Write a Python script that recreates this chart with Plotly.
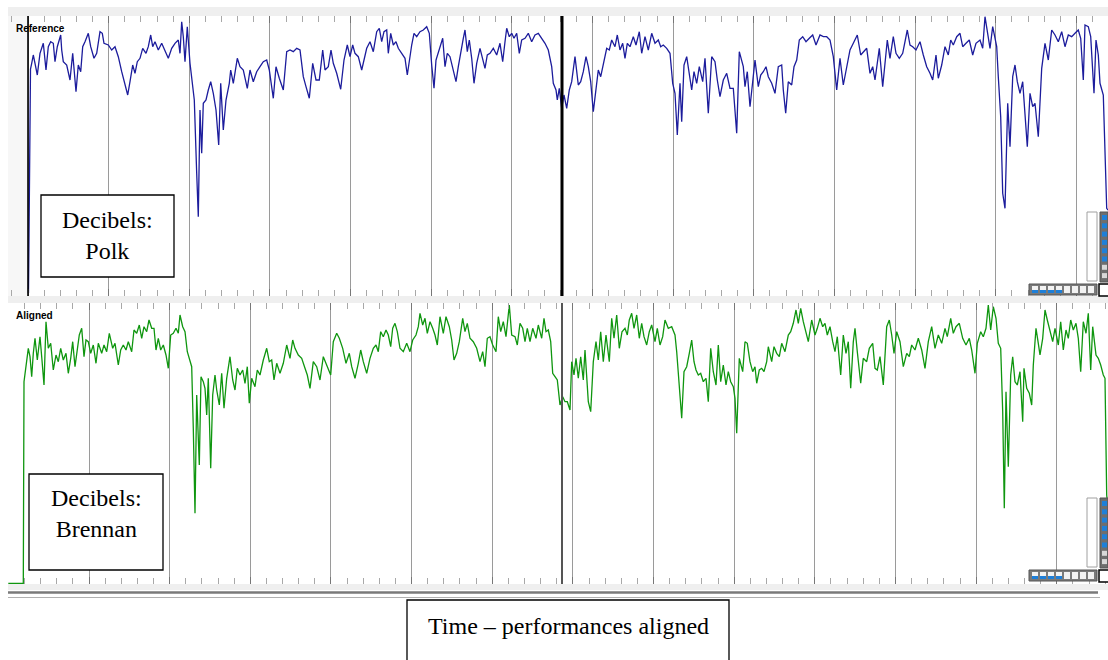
import plotly.graph_objects as go

# ---------------- data (time in s, level in dB) ----------------
ref_time = [2.85, 3.05, 3.17, 3.33, 3.5, 3.73, 4.0, 4.33, 4.6, 4.83, 5.07, 5.33, 5.5, 5.73, 6.07, 6.17, 6.33, 6.67, 7.0, 7.27, 7.6, 7.83, 8.07, 8.27, 8.5, 8.83, 9.07, 9.4, 9.67, 10.0, 10.23, 10.4, 10.83, 11.17, 11.5, 11.83, 12.17, 12.5, 12.77, 13.0, 13.27, 13.5, 13.73, 14.0, 14.27, 14.6, 14.83, 15.07, 15.27, 15.5, 15.83, 16.17, 16.5, 16.83, 17.17, 17.5, 17.83, 18.0, 18.17, 18.33, 18.5, 18.73, 19.0, 19.27, 19.43, 19.67, 19.83, 20.0, 20.17, 20.33, 20.6, 20.83, 21.07, 21.33, 21.6, 21.87, 22.07, 22.33, 22.6, 22.93, 23.07, 23.33, 23.73, 24.0, 24.33, 24.73, 25.0, 25.33, 25.67, 26.0, 26.33, 26.67, 26.93, 27.33, 27.6, 27.93, 28.33, 28.67, 29.0, 29.33, 29.67, 30.0, 30.33, 30.6, 30.93, 31.27, 31.6, 31.93, 32.27, 32.5, 32.83, 33.1, 33.33, 33.67, 34.07, 34.4, 34.73, 35.0, 35.27, 35.5, 35.83, 36.17, 36.4, 36.67,
            37.0, 37.33, 37.67, 37.93, 38.17, 38.4, 38.67, 38.83, 39.07, 39.33, 39.6, 39.83, 40.17, 40.5, 40.73, 40.93, 41.17, 41.4, 41.67, 42.0, 42.33, 42.67, 42.93, 43.17, 43.4, 43.6, 43.83, 44.07, 44.27, 44.5, 44.73, 45.0, 45.27, 45.6, 45.83, 46.07, 46.33, 46.5, 46.73, 46.93, 47.17, 47.4, 47.67, 48.0, 48.27, 48.5, 48.73, 49.0, 49.33, 49.67, 50.0, 50.27, 50.5, 50.67, 50.93, 51.17, 51.4, 51.67, 51.93, 52.17, 52.5, 52.83, 53.17, 53.5, 53.83, 54.17, 54.5, 54.83, 55.17, 55.33, 55.6, 55.73, 55.93, 56.17, 56.4, 56.67, 56.93, 57.17, 57.5, 57.83, 58.07, 58.33, 58.6, 58.83, 59.07, 59.33, 59.6, 59.83, 60.07, 60.33, 60.67, 60.93, 61.17, 61.5, 61.73, 62.0, 62.27, 62.5, 62.73, 63.0, 63.33, 63.6, 63.93, 64.17, 64.5, 64.83, 65.17, 65.5, 65.83, 66.07, 66.33, 66.67, 67.0, 67.27, 67.5, 67.73, 68.0, 68.17, 68.4, 68.67, 68.93, 69.17, 69.4, 69.67, 69.93, 70.27, 70.5, 70.83, 71.17, 71.5, 71.73, 72.0, 72.33, 72.67, 73.0, 73.33, 73.67, 73.93,
            74.33, 74.5, 74.73, 75.0, 75.27, 75.5, 75.83, 76.07, 76.33, 76.6, 76.83, 77.17, 77.5, 77.83, 78.17, 78.33, 78.57, 78.83, 79.17, 79.4, 79.67, 79.93, 80.27, 80.6, 80.93, 81.27, 81.6, 82.0, 82.33, 82.67, 83.0, 83.33, 83.67, 84.0, 84.33, 84.67, 85.0, 85.33, 85.73, 86.07, 86.4, 86.67, 87.0, 87.27, 87.5, 87.73, 87.93, 88.27, 88.5, 88.73, 89.0, 89.33, 89.6, 89.93, 90.27, 90.5, 90.73, 91.0, 91.27, 91.6, 92.0, 92.33, 92.67, 93.0, 93.27, 93.6, 93.83, 94.17, 94.5, 94.83, 95.07, 95.33, 95.67, 96.0, 96.27, 96.6, 96.93, 97.27, 97.6, 98.0, 98.27, 98.5, 98.73, 99.0, 99.27, 99.5, 99.67, 99.83, 100.07, 100.27, 100.5, 100.77, 101.0, 101.27, 101.5, 101.73, 102.0, 102.27, 102.5, 102.73, 103.0, 103.27, 103.5, 103.83, 104.17, 104.5, 104.83, 105.17, 105.5, 105.83, 106.17, 106.5, 106.83, 107.17, 107.5, 107.83, 108.07, 108.33, 108.5, 108.83, 109.07, 109.4, 109.6, 109.83, 110.0, 110.33, 110.67, 110.8]
ref_db = [-29.3, -6.9, -6.33, -5.5, -6.33, -7.5, -5.33, -4.33, -7.0, -4.67, -4.17, -4.33, -6.17, -4.67, -3.5, -5.0, -6.17, -6.5, -8.0, -5.33, -9.17, -6.5, -7.17, -4.67, -4.17, -3.33, -4.67, -5.83, -5.33, -3.17, -3.33, -4.33, -4.5, -5.0, -4.67, -5.67, -7.17, -8.5, -9.5, -8.17, -6.5, -7.33, -6.17, -5.83, -4.83, -5.33, -4.67, -3.5, -4.67, -4.17, -5.0, -4.33, -5.0, -5.83, -4.83, -4.33, -4.0, -5.33, -2.17, -3.67, -6.17, -2.67, -6.33, -9.0, -10.0, -17.33, -21.67, -11.0, -15.33, -10.33, -10.0, -9.0, -8.17, -9.33, -11.0, -14.5, -8.33, -13.0, -10.0, -8.33, -7.0, -8.33, -5.83, -6.67, -7.0, -8.83, -7.0, -8.17, -7.17, -6.67, -6.17, -6.0, -7.0, -9.83, -6.67, -7.83, -9.0, -5.17, -5.0, -5.17, -4.83, -5.0, -7.67, -8.67, -9.83, -6.33, -8.0, -8.0, -5.0, -7.0, -6.67, -5.0, -6.33, -7.33, -8.93, -6.0, -4.5, -5.67, -4.5, -5.33, -5.67, -7.0, -5.83, -4.83,
          -4.17, -5.17, -3.17, -2.83, -4.17, -3.17, -3.0, -5.33, -3.33, -4.5, -4.17, -4.83, -5.33, -5.83, -7.5, -6.0, -4.5, -3.33, -3.67, -3.17, -3.0, -2.67, -3.33, -6.5, -8.83, -6.0, -5.17, -4.5, -3.83, -6.67, -5.33, -5.67, -6.83, -8.17, -6.67, -5.17, -3.83, -3.0, -5.17, -4.0, -5.83, -8.33, -6.33, -4.83, -6.0, -6.83, -5.5, -5.33, -4.83, -5.5, -4.33, -6.17, -4.17, -2.83, -3.67, -3.33, -3.83, -3.33, -5.33, -4.0, -3.83, -3.33, -4.17, -3.5, -3.33, -3.83, -4.33, -5.0, -6.67, -8.33, -9.0, -10.0, -8.83, -10.83, -9.5, -10.83, -9.0, -8.17, -5.67, -8.5, -8.17, -7.17, -5.67, -6.67, -8.17, -11.17, -9.17, -7.0, -7.67, -6.33, -4.83, -5.0, -4.0, -4.67, -3.5, -5.0, -4.33, -5.83, -4.33, -4.67, -3.67, -4.5, -3.17, -5.33, -3.67, -5.0, -3.33, -4.33, -4.0, -4.67, -4.5, -4.83, -5.33, -8.33, -9.33, -13.5, -8.33, -12.17, -6.5, -5.67, -7.67, -9.0, -7.17, -8.33, -6.67, -8.17, -5.83, -11.33, -5.67, -6.17, -8.0, -9.67, -8.0, -7.33, -8.83, -8.83, -13.33, -5.17,
          -6.67, -8.67, -7.17, -10.67, -8.17, -6.0, -8.67, -7.5, -7.17, -6.67, -7.67, -8.33, -9.33, -6.67, -6.5, -9.0, -11.33, -8.17, -8.5, -6.67, -6.0, -4.0, -3.67, -4.17, -3.83, -3.5, -4.5, -3.5, -3.67, -3.67, -4.0, -5.67, -9.0, -5.83, -8.5, -6.5, -5.0, -4.33, -3.5, -5.5, -5.17, -4.83, -7.33, -6.67, -8.0, -6.33, -4.83, -8.67, -6.0, -4.0, -5.83, -3.67, -5.33, -5.83, -5.33, -4.0, -3.0, -4.5, -4.67, -5.0, -4.17, -5.5, -6.67, -7.33, -8.0, -5.5, -7.83, -6.5, -4.67, -5.5, -4.0, -4.5, -3.67, -3.33, -4.67, -4.33, -4.0, -5.5, -4.33, -4.0, -4.83, -1.67, -3.0, -4.83, -2.67, -4.0, -4.67, -7.67, -11.67, -19.33, -20.83, -10.33, -14.67, -7.67, -6.5, -8.17, -9.33, -8.17, -12.0, -14.67, -9.33, -10.67, -10.33, -13.67, -6.83, -4.33, -6.0, -3.0, -3.5, -4.17, -3.17, -4.67, -3.5, -3.67, -3.33, -3.0, -3.83, -8.0, -2.5, -2.67, -3.67, -9.33, -4.0, -5.5, -8.33, -9.5, -20.83, -21.0]

aln_time = [0.83, 2.33, 2.4, 2.6, 2.83, 3.0, 3.17, 3.33, 3.5, 3.73, 4.0, 4.17, 4.4, 4.6, 4.83, 5.07, 5.33, 5.6, 5.83, 6.07, 6.33, 6.6, 6.83, 7.07, 7.27, 7.5, 7.73, 7.93, 8.17, 8.4, 8.6, 8.83, 9.07, 9.33, 9.6, 9.83, 10.17, 10.4, 10.67, 10.93, 11.27, 11.5, 11.83, 12.07, 12.33, 12.6, 12.83, 13.17, 13.4, 13.67, 13.93, 14.17, 14.4, 14.67, 14.9, 15.17, 15.4, 15.6, 15.83, 16.07, 16.33, 16.6, 16.83, 17.07, 17.33, 17.6, 17.83, 18.0, 18.27, 18.5, 18.73, 19.0, 19.17, 19.33, 19.5, 19.67, 19.77, 19.93, 20.1, 20.33, 20.5, 20.67, 20.83, 21.07, 21.27, 21.5, 21.67, 21.93, 22.17, 22.4, 22.67, 23.0, 23.27, 23.5, 23.73, 24.0, 24.27, 24.5, 24.73, 24.93, 25.17, 25.5, 25.73, 26.0, 26.33, 26.67, 26.93, 27.17, 27.4, 27.67, 28.0, 28.33, 28.67, 29.0, 29.27, 29.5, 29.83, 30.17, 30.5, 30.73, 31.0, 31.33, 31.67, 32.0, 32.33, 32.67, 33.07, 33.33, 33.67, 33.93, 34.27, 34.6, 34.93, 35.17, 35.5, 35.83, 36.07, 36.33, 36.67,
            37.0, 37.33, 37.6, 37.83, 38.07, 38.33, 38.6, 38.83, 39.07, 39.27, 39.5, 39.73, 40.0, 40.33, 40.67, 41.0, 41.27, 41.6, 41.83, 42.0, 42.27, 42.5, 42.73, 43.0, 43.27, 43.5, 43.73, 44.0, 44.33, 44.6, 44.93, 45.17, 45.4, 45.67, 45.93, 46.27, 46.5, 46.73, 47.0, 47.33, 47.67, 48.0, 48.27, 48.5, 48.73, 49.0, 49.27, 49.6, 49.83, 50.07, 50.33, 50.6, 50.93, 51.17, 51.5, 51.73, 52.0, 52.27, 52.5, 52.73, 53.0, 53.27, 53.6, 53.83, 54.17, 54.4, 54.6, 54.83, 55.07, 55.27, 55.5, 55.73, 56.0, 56.27, 56.5, 56.73, 57.0, 57.17, 57.4, 57.6, 57.83, 58.07, 58.33, 58.5, 58.83, 59.07, 59.33, 59.6, 59.83, 60.07, 60.33, 60.6, 60.93, 61.17, 61.4, 61.67, 61.93, 62.2, 62.5, 62.73, 62.93, 63.17, 63.4, 63.67, 63.93, 64.17, 64.4, 64.67, 64.93, 65.17, 65.5, 65.73, 66.0, 66.27, 66.5, 66.83, 67.17, 67.5, 67.67, 67.83, 68.0, 68.17, 68.4, 68.67, 68.93, 69.17, 69.4, 69.6, 69.83, 70.07, 70.33, 70.6, 70.83, 71.07, 71.33, 71.6, 71.83, 72.07, 72.33, 72.6, 72.83, 73.07, 73.33, 73.5, 73.67, 73.93,
            74.27, 74.5, 74.73, 75.0, 75.27, 75.5, 75.67, 75.93, 76.17, 76.4, 76.67, 76.83, 77.17, 77.4, 77.67, 77.93, 78.17, 78.5, 78.83, 79.07, 79.33, 79.6, 79.83, 80.07, 80.33, 80.6, 80.83, 81.17, 81.5, 81.73, 82.0, 82.27, 82.5, 82.73, 83.0, 83.27, 83.5, 83.73, 84.07, 84.33, 84.6, 84.83, 85.07, 85.33, 85.5, 85.73, 86.07, 86.33, 86.67, 86.93, 87.27, 87.5, 87.73, 88.0, 88.33, 88.67, 88.93, 89.17, 89.4, 89.67, 90.0, 90.33, 90.67, 90.93, 91.17, 91.5, 91.83, 92.17, 92.5, 92.83, 93.17, 93.5, 93.83, 94.17, 94.5, 94.73, 95.07, 95.33, 95.6, 95.93, 96.27, 96.6, 96.93, 97.17, 97.5, 97.73, 98.07, 98.33, 98.6, 98.83, 99.07, 99.33, 99.6, 99.83, 100.07, 100.27, 100.43, 100.6, 100.83, 101.07, 101.27, 101.5, 101.73, 102.0, 102.27, 102.4, 102.67, 102.93, 103.17, 103.33, 103.6, 103.83, 104.0, 104.27, 104.5, 104.73, 105.0, 105.27, 105.5, 105.83, 106.07, 106.33, 106.6, 106.83, 107.07, 107.33, 107.6, 107.83, 108.07, 108.33, 108.6, 108.83, 109.07, 109.27, 109.6, 109.83, 110.07, 110.33, 110.5, 110.67, 110.8]
aln_db = [-28.83, -28.83, -8.67, -7.17, -5.33, -6.17, -8.17, -5.83, -4.33, -6.5, -4.17, -6.17, -9.0, -2.67, -5.33, -4.83, -7.5, -6.0, -6.67, -5.33, -6.5, -5.83, -7.83, -6.33, -4.67, -7.17, -5.33, -4.0, -3.33, -6.17, -4.5, -4.67, -5.83, -5.0, -6.83, -4.83, -5.83, -5.0, -5.67, -3.83, -5.33, -4.83, -7.0, -5.5, -5.0, -5.5, -4.67, -5.67, -3.5, -3.83, -3.0, -4.33, -3.17, -3.67, -2.5, -3.33, -3.33, -5.5, -4.33, -5.5, -5.0, -6.0, -7.33, -4.0, -3.83, -3.33, -3.83, -2.0, -3.17, -3.67, -5.67, -6.67, -7.17, -13.33, -21.83, -10.0, -13.67, -17.0, -8.17, -8.67, -9.33, -12.0, -8.33, -17.33, -10.0, -8.0, -9.5, -11.0, -7.83, -11.33, -8.33, -6.17, -8.5, -9.5, -7.33, -8.0, -7.5, -8.83, -7.17, -10.83, -8.33, -9.17, -7.5, -8.0, -6.5, -5.33, -6.67, -6.5, -8.5, -6.83, -7.83, -6.83, -5.0, -6.33, -4.5, -5.33, -6.0, -6.33, -7.33, -8.0, -9.33, -6.67, -7.17, -8.5, -6.17, -7.0, -8.0, -4.67, -3.83, -4.33, -5.33, -6.83, -5.83, -7.17, -8.33, -6.83, -5.5, -6.67, -7.83,
          -6.33, -5.33, -5.0, -5.67, -3.67, -4.17, -3.5, -4.0, -5.17, -3.33, -2.83, -3.67, -5.33, -5.67, -4.83, -5.67, -4.5, -4.0, -3.17, -1.83, -3.0, -2.33, -3.83, -2.67, -3.33, -4.0, -5.0, -2.17, -3.83, -2.17, -3.17, -4.5, -6.5, -5.83, -4.67, -2.33, -3.67, -2.83, -4.33, -4.67, -5.33, -6.67, -5.67, -7.17, -4.33, -4.17, -5.0, -5.67, -2.17, -3.67, -2.67, -4.17, -1.0, -4.0, -4.17, -5.0, -2.83, -3.33, -4.67, -3.33, -4.67, -3.33, -4.33, -3.0, -4.33, -2.33, -3.67, -3.5, -4.67, -7.83, -8.17, -8.5, -11.0, -10.17, -10.67, -10.67, -11.5, -6.67, -8.0, -6.33, -8.33, -6.17, -8.5, -5.5, -10.67, -11.67, -6.67, -4.67, -6.5, -3.67, -6.67, -4.0, -6.67, -2.33, -4.33, -2.0, -5.33, -3.67, -3.33, -4.0, -2.5, -1.83, -3.33, -2.0, -4.33, -2.83, -4.17, -5.0, -3.67, -3.0, -4.67, -3.33, -5.0, -4.17, -2.5, -3.33, -3.17, -4.0, -5.67, -8.0, -10.0, -12.33, -7.67, -7.17, -5.83, -4.5, -6.67, -7.5, -8.0, -7.83, -8.67, -8.33, -10.67, -5.33, -7.67, -9.0, -5.0, -8.67, -7.0, -9.0, -7.67, -8.67, -9.17, -10.33, -13.83, -6.33,
          -7.67, -4.67, -4.83, -6.67, -7.67, -7.17, -8.83, -7.5, -7.33, -7.67, -6.67, -5.17, -6.67, -5.17, -5.83, -6.17, -4.83, -5.67, -4.0, -3.67, -2.83, -1.5, -2.83, -1.33, -2.67, -3.67, -4.67, -2.5, -4.0, -3.33, -2.33, -3.17, -2.83, -4.0, -3.17, -4.67, -5.67, -4.17, -8.0, -4.0, -5.83, -4.67, -9.33, -4.67, -3.33, -5.67, -8.83, -6.33, -6.67, -5.33, -4.83, -7.33, -7.5, -6.17, -9.0, -3.17, -2.5, -4.0, -5.83, -3.67, -4.67, -7.17, -5.83, -6.17, -5.0, -5.5, -4.33, -5.5, -7.33, -4.67, -3.17, -5.33, -4.0, -4.83, -3.33, -4.17, -2.33, -3.83, -3.17, -2.83, -4.33, -5.0, -4.33, -5.5, -7.83, -4.83, -3.67, -4.17, -3.33, -1.0, -3.5, -1.17, -2.33, -4.83, -5.33, -11.67, -21.33, -9.67, -17.17, -8.0, -6.17, -8.67, -9.0, -7.67, -12.67, -7.33, -9.33, -9.83, -11.0, -7.0, -3.33, -4.83, -6.0, -4.33, -1.5, -2.5, -3.67, -4.67, -3.33, -5.0, -2.67, -5.5, -3.5, -4.33, -2.5, -3.5, -2.83, -4.33, -7.67, -2.67, -3.83, -1.83, -7.5, -3.17, -6.0, -6.33, -7.0, -8.0, -8.33, -20.0, -21.33]

ref_bar_start = 2.8      # first bar line of the reference (s)
aln_bar_start = 0.835    # first bar line of the aligned performance (s)
bar_len = 8.065          # bar length (s)
beat_len = 1.613         # beat length (s)
playhead = 56.2          # playback position (s)

W, H = 1108, 660
def px(x): return x / W
def py(y): return 1 - y / H

fig = go.Figure()
fig.add_trace(go.Scatter(x=ref_time, y=ref_db, mode="lines", xaxis="x", yaxis="y",
                         line=dict(color="#1c1c9c", width=1.3), hoverinfo="skip", showlegend=False))
fig.add_trace(go.Scatter(x=aln_time, y=aln_db, mode="lines", xaxis="x2", yaxis="y2",
                         line=dict(color="#0f960f", width=1.3), hoverinfo="skip", showlegend=False))

def xax(tick0, anchor):
    return dict(domain=[px(8), 1], range=[0.8, 110.8], anchor=anchor,
                tickmode="linear", tick0=tick0, dtick=bar_len,
                ticks="inside", ticklen=7, tickcolor="#777", tickwidth=1,
                showticklabels=False, showgrid=True, gridcolor="#9a9a9a", gridwidth=1,
                zeroline=False, showline=False, mirror="ticks",
                minor=dict(tick0=tick0, dtick=beat_len, ticks="inside", ticklen=6,
                           tickcolor="#a8a8a8", tickwidth=1, showgrid=False))

def yax(domain, rng):
    return dict(domain=domain, range=rng, showticklabels=False, showgrid=False,
                zeroline=False, ticks="", showline=False)

shapes = []
# grey strips
for y0, y1 in [(7, 16), (296, 303), (584, 590)]:
    shapes.append(dict(type="rect", xref="paper", yref="paper", x0=px(8), x1=1, y0=py(y1), y1=py(y0),
                       fillcolor="#efefef", line=dict(width=0), layer="below"))
# light area before the reference starts
shapes.append(dict(type="rect", xref="paper", yref="paper", x0=px(8), x1=px(28), y0=py(296), y1=py(16),
                   fillcolor="#f7f7f7", line=dict(width=0), layer="below"))
# start line of reference
shapes.append(dict(type="line", xref="x", yref="y domain", x0=ref_bar_start, x1=ref_bar_start, y0=0, y1=1,
                   line=dict(color="#000", width=1.6)))
# playhead
shapes.append(dict(type="line", xref="x", yref="y domain", x0=playhead, x1=playhead, y0=0, y1=1,
                   line=dict(color="#000", width=3)))
shapes.append(dict(type="line", xref="x2", yref="y2 domain", x0=playhead, x1=playhead, y0=0, y1=1,
                   line=dict(color="#555", width=2)))
# overview strip
shapes.append(dict(type="line", xref="paper", yref="paper", x0=px(8), x1=px(1098), y0=py(592.5), y1=py(592.5),
                   line=dict(color="#7a7a7a", width=2.5)))
shapes.append(dict(type="line", xref="paper", yref="paper", x0=px(8), x1=px(1100), y0=py(597.5), y1=py(597.5),
                   line=dict(color="#b0b0b0", width=1)))

# label boxes
for (x0, y0, x1, y1) in [(41, 195, 174, 277), (29, 474, 163, 570), (407, 600, 729, 668)]:
    shapes.append(dict(type="rect", xref="paper", yref="paper", x0=px(x0), x1=px(x1), y0=py(y1), y1=py(y0),
                       fillcolor="white", line=dict(color="#000", width=1.3)))

# view widgets (bottom right of each pane)
for off in (0, 286):
    shapes.append(dict(type="rect", xref="paper", yref="paper", x0=px(1087), x1=px(1097), y0=py(281 + off), y1=py(212 + off),
                       fillcolor="white", line=dict(color="#a0a0a0", width=1)))
    shapes.append(dict(type="rect", xref="paper", yref="paper", x0=px(1100), x1=px(1108), y0=py(282 + off), y1=py(212 + off),
                       fillcolor="#6e6e6e", line=dict(color="#555", width=1)))
    for k in range(8):
        yy = 215 + off + k * 8.3
        shapes.append(dict(type="rect", xref="paper", yref="paper", x0=px(1102), x1=px(1107), y0=py(yy + 5), y1=py(yy),
                           fillcolor="#1e7fd8" if k < 6 else "#d8d8d8", line=dict(width=0)))
    shapes.append(dict(type="rect", xref="paper", yref="paper", x0=px(1029), x1=px(1097), y0=py(295 + off), y1=py(284 + off),
                       fillcolor="#7a7a7a", line=dict(color="#555", width=1)))
    for k in range(8):
        xx = 1032 + k * 8
        shapes.append(dict(type="rect", xref="paper", yref="paper", x0=px(xx), x1=px(xx + 6), y0=py(293 + off), y1=py(286 + off),
                           fillcolor="#f2f2f2", line=dict(width=0)))
        if k < 4:
            shapes.append(dict(type="rect", xref="paper", yref="paper", x0=px(xx), x1=px(xx + 6), y0=py(293 + off), y1=py(290 + off),
                               fillcolor="#1e7fd8", line=dict(width=0)))
    shapes.append(dict(type="rect", xref="paper", yref="paper", x0=px(1099), x1=px(1110), y0=py(296 + off), y1=py(284 + off),
                       fillcolor="white", line=dict(color="#000", width=1.5)))

serif = "Liberation Serif, Times New Roman, serif"
annotations = [
    dict(text="<b>Reference</b>", x=px(14), y=py(28), xref="paper", yref="paper", xanchor="left", yanchor="middle",
         showarrow=False, font=dict(family="Liberation Sans, Arial", size=10, color="#000")),
    dict(text="<b>Aligned</b>", x=px(14), y=py(315), xref="paper", yref="paper", xanchor="left", yanchor="middle",
         showarrow=False, font=dict(family="Liberation Sans, Arial", size=10, color="#000")),
    dict(text="Decibels:<br>Polk", x=px(107.5), y=py(235), xref="paper", yref="paper", xanchor="center", yanchor="middle",
         showarrow=False, font=dict(family=serif, size=24, color="#000")),
    dict(text="Decibels:<br>Brennan", x=px(96), y=py(513), xref="paper", yref="paper", xanchor="center", yanchor="middle",
         showarrow=False, font=dict(family=serif, size=24, color="#000")),
    dict(text="Time – performances aligned", x=px(568), y=py(626), xref="paper", yref="paper", xanchor="center", yanchor="middle",
         showarrow=False, font=dict(family=serif, size=24, color="#000")),
]

fig.update_layout(
    width=W, height=H, margin=dict(l=0, r=0, t=0, b=0),
    paper_bgcolor="white", plot_bgcolor="white", showlegend=False,
    xaxis=xax(ref_bar_start, "y"),
    yaxis=yax([py(296), py(16)], [-29.6, -1.6]),
    xaxis2=xax(aln_bar_start, "y2"),
    yaxis2=yax([py(584), py(303)], [-28.9, -0.8]),
    shapes=shapes, annotations=annotations,
)
# place the figure at the page origin (no default body margin, no scrollbars)
fig.write_html("out.html", config={"displayModeBar": False},
               post_script="document.body.style.margin='0';document.body.style.overflow='hidden';")
